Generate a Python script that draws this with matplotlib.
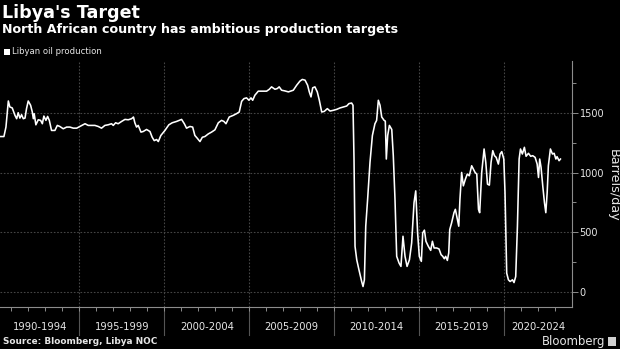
import matplotlib
matplotlib.use("Agg")
import matplotlib.pyplot as plt
from matplotlib.transforms import blended_transform_factory
from matplotlib.patches import Rectangle

# ---- data (decimal year, thousand barrels/day) ----
dates = [
    1990.34, 1990.57, 1990.69, 1990.83, 1990.92, 1991.06, 1991.22, 1991.32, 1991.41, 1991.51,
    1991.61, 1991.71, 1991.81, 1991.90, 1992.00, 1992.14, 1992.24, 1992.30, 1992.35, 1992.45,
    1992.59, 1992.73, 1992.83, 1992.92, 1993.04, 1993.14, 1993.24, 1993.37, 1993.57, 1993.71,
    1993.86, 1994.06, 1994.26, 1994.45, 1994.65, 1994.85, 1995.04, 1995.34, 1995.53, 1995.92,
    1996.12, 1996.31, 1996.51, 1996.70, 1996.90, 1997.00, 1997.14, 1997.29, 1997.49, 1997.69,
    1997.88, 1998.08, 1998.19, 1998.27, 1998.37, 1998.47, 1998.63, 1998.76, 1998.96, 1999.16,
    1999.29, 1999.41, 1999.55, 1999.65, 1999.80, 2000.04, 2000.27, 2000.47, 2000.72, 2001.02,
    2001.18, 2001.31, 2001.51, 2001.67, 2001.80, 2001.94, 2002.10, 2002.24, 2002.39, 2002.59,
    2002.78, 2002.98, 2003.18, 2003.37, 2003.51, 2003.63, 2003.82, 2004.06, 2004.25, 2004.41,
    2004.55, 2004.69, 2004.84, 2004.98, 2005.10, 2005.20, 2005.33, 2005.53, 2005.73, 2006.02,
    2006.18, 2006.31, 2006.51, 2006.65, 2006.76, 2006.90, 2007.10, 2007.30, 2007.59, 2007.79,
    2007.98, 2008.12, 2008.28, 2008.43, 2008.53, 2008.63, 2008.73, 2008.86, 2009.00, 2009.12,
    2009.26, 2009.41, 2009.59, 2009.75, 2009.94, 2010.14, 2010.34, 2010.53, 2010.73, 2010.86,
    2011.02, 2011.10, 2011.16, 2011.22, 2011.32, 2011.45, 2011.61, 2011.69, 2011.77, 2011.85,
    2011.96, 2012.10, 2012.24, 2012.39, 2012.49, 2012.59, 2012.69, 2012.79, 2012.93, 2013.00,
    2013.06, 2013.14, 2013.24, 2013.38, 2013.47, 2013.57, 2013.67, 2013.81, 2013.92, 2014.04,
    2014.16, 2014.28, 2014.42, 2014.55, 2014.69, 2014.79, 2014.90, 2015.00, 2015.12, 2015.20,
    2015.30, 2015.39, 2015.53, 2015.67, 2015.77, 2015.87, 2016.02, 2016.16, 2016.28, 2016.38,
    2016.47, 2016.55, 2016.65, 2016.73, 2016.79, 2016.90, 2017.04, 2017.12, 2017.24, 2017.32,
    2017.39, 2017.49, 2017.59, 2017.71, 2017.82, 2017.94, 2018.08, 2018.18, 2018.28, 2018.38,
    2018.48, 2018.55, 2018.67, 2018.81, 2018.91, 2019.01, 2019.12, 2019.22, 2019.32, 2019.42,
    2019.52, 2019.65, 2019.75, 2019.85, 2019.97, 2020.04, 2020.14, 2020.24, 2020.34, 2020.48,
    2020.57, 2020.67, 2020.77, 2020.87, 2020.95, 2021.06, 2021.18, 2021.28, 2021.42, 2021.55,
    2021.67, 2021.81, 2021.93, 2022.01, 2022.08, 2022.16, 2022.26, 2022.36, 2022.44, 2022.52,
    2022.59, 2022.71, 2022.83, 2022.93, 2023.03, 2023.10, 2023.22, 2023.30,
]
production = [
    1301, 1301, 1380, 1598, 1548, 1540, 1478, 1450, 1500, 1455,
    1483, 1450, 1455, 1534, 1598, 1562, 1506, 1450, 1492, 1399,
    1441, 1436, 1408, 1472, 1436, 1469, 1436, 1352, 1352, 1394,
    1385, 1366, 1380, 1380, 1371, 1371, 1385, 1408, 1394, 1394,
    1385, 1371, 1394, 1399, 1408, 1394, 1416, 1408, 1427, 1444,
    1441, 1450, 1464, 1416, 1380, 1394, 1338, 1343, 1360, 1343,
    1295, 1267, 1276, 1259, 1310, 1352, 1399, 1416, 1427, 1444,
    1408, 1371, 1385, 1380, 1310, 1287, 1259, 1295, 1301, 1323,
    1338, 1357, 1416, 1436, 1427, 1408, 1464, 1478, 1492, 1506,
    1595, 1618, 1624, 1604, 1624, 1604, 1646, 1680, 1680, 1680,
    1696, 1716, 1696, 1702, 1716, 1688, 1682, 1674, 1688, 1730,
    1764, 1778, 1772, 1730, 1674, 1632, 1708, 1716, 1674, 1604,
    1506, 1511, 1534, 1514, 1520, 1528, 1540, 1548, 1556, 1576,
    1581, 1562, 1113, 384, 272, 188, 90, 48, 104, 552,
    777, 1085, 1309, 1408, 1436, 1604, 1562, 1464, 1436, 1430,
    1113, 1309, 1394, 1360, 1141, 777, 300, 244, 216, 468,
    300, 216, 272, 412, 749, 847, 496, 300, 258, 496,
    519, 426, 384, 350, 426, 370, 370, 362, 314, 300,
    280, 300, 266, 328, 524, 580, 665, 693, 608, 552,
    777, 1001, 889, 945, 987, 973, 1057, 1029, 1001, 987,
    693, 665, 1001, 1197, 1085, 903, 895, 1085, 1183, 1141,
    1127, 1071, 1155, 1175, 1113, 833, 160, 104, 90, 104,
    81, 132, 552, 1113, 1197, 1155, 1211, 1136, 1161, 1136,
    1141, 1127, 1071, 959, 1113, 1043, 889, 749, 665, 833,
    1057, 1197, 1155, 1161, 1113, 1133, 1099, 1113,
]
period_starts = [1990, 1995, 2000, 2005, 2010, 2015, 2020]
period_labels = ["1990-1994", "1995-1999", "2000-2004", "2005-2009",
                 "2010-2014", "2015-2019", "2020-2024"]
y_ticks = [0, 500, 1000, 1500]
y_tick_labels = ["0", "500", "1000", "1500"]

title = "Libya's Target"
subtitle = "North African country has ambitious production targets"
legend_label = "Libyan oil production"
y_label = "Barrels/day"
source = "Source: Bloomberg, Libya NOC"

# ---- figure ----
W, H = 620, 349
fig = plt.figure(figsize=(W / 100, H / 100), dpi=100, facecolor="black")
ax = fig.add_axes([0, 42 / H, 572 / W, 246 / H], facecolor="black")

x0, x1 = 1990.34, 2023.98
ax.set_xlim(x0, x1)
ax.set_ylim(-123, 1932)

grid_col = "#444444"
axis_col = "#8c8c8c"
text_col = "#e6e6e6"

# horizontal grid
for v in y_ticks:
    ax.axhline(v, color=grid_col, lw=0.8, ls=(0, (1.5, 1.5)), zorder=1)

# period separators
trans = blended_transform_factory(ax.transData, ax.transAxes)
for p in period_starts[1:]:
    ax.axvline(p, color=grid_col, lw=0.8, ls=(0, (1.5, 1.5)), zorder=1)
    ax.plot([p, p], [0, -0.115], transform=trans, color="#555555", lw=0.8,
            clip_on=False, zorder=1)

# the line
ax.plot(dates, production, color="white", lw=1.15, zorder=3,
        solid_joinstyle="round")

# spines
for s in ["left", "top"]:
    ax.spines[s].set_visible(False)
ax.spines["bottom"].set_color(axis_col)
ax.spines["right"].set_color(axis_col)
ax.spines["bottom"].set_linewidth(0.8)
ax.spines["right"].set_linewidth(0.8)

# x ticks: every year, no labels
ax.set_xticks(list(range(1991, 2024)))
ax.set_xticklabels([])
ax.tick_params(axis="x", colors=axis_col, length=3, width=0.7, direction="out")

# y axis on right
ax.yaxis.tick_right()
ax.set_yticks(y_ticks)
ax.set_yticklabels(y_tick_labels)
ax.set_yticks([250, 750, 1250, 1750], minor=True)
ax.tick_params(axis="y", which="major", colors=axis_col, labelcolor=text_col,
               length=4, width=0.7, labelsize=7, pad=1.5)
ax.tick_params(axis="y", which="minor", colors=axis_col, length=3, width=0.7)
ax.tick_params(axis="y", which="both", left=False, labelleft=False)

# period labels
for i, (p, lab) in enumerate(zip(period_starts, period_labels)):
    a = max(p, x0)
    b = min(p + 5, x1)
    ax.text((a + b) / 2, -0.08, lab, transform=trans, ha="center", va="center",
            color=text_col, fontsize=7.2)

# y label
fig.text(613 / W, 1 - 185 / H, y_label, rotation=270, ha="center", va="center",
         color=text_col, fontsize=9.2)

# titles
fig.text(2 / W, 1 - 12.5 / H, title, ha="left", va="center", color="white",
         fontsize=12.6, fontweight="bold")
fig.text(2 / W, 1 - 30 / H, subtitle, ha="left", va="center", color="white",
         fontsize=9.1, fontweight="bold")

# legend
fig.patches.append(Rectangle((4.3 / W, 1 - 54.5 / H), 5.5 / W, 5.5 / H,
                             transform=fig.transFigure, facecolor="white",
                             edgecolor="none"))
fig.text(12.5 / W, 1 - 51.5 / H, legend_label, ha="left", va="center",
         color=text_col, fontsize=6.1)

# source & branding
fig.text(3 / W, 1 - 342 / H, source, ha="left", va="center", color=text_col,
         fontsize=6.4, fontweight="bold")
fig.text(605 / W, 1 - 341 / H, "Bloomberg", ha="right", va="center",
         color=text_col, fontsize=8.4)
fig.patches.append(Rectangle((608 / W, 1 - 346 / H), 8 / W, 9 / H,
                             transform=fig.transFigure, facecolor="#d0d0d0",
                             edgecolor="none"))

fig.savefig("out.png", dpi=100, facecolor="black")
